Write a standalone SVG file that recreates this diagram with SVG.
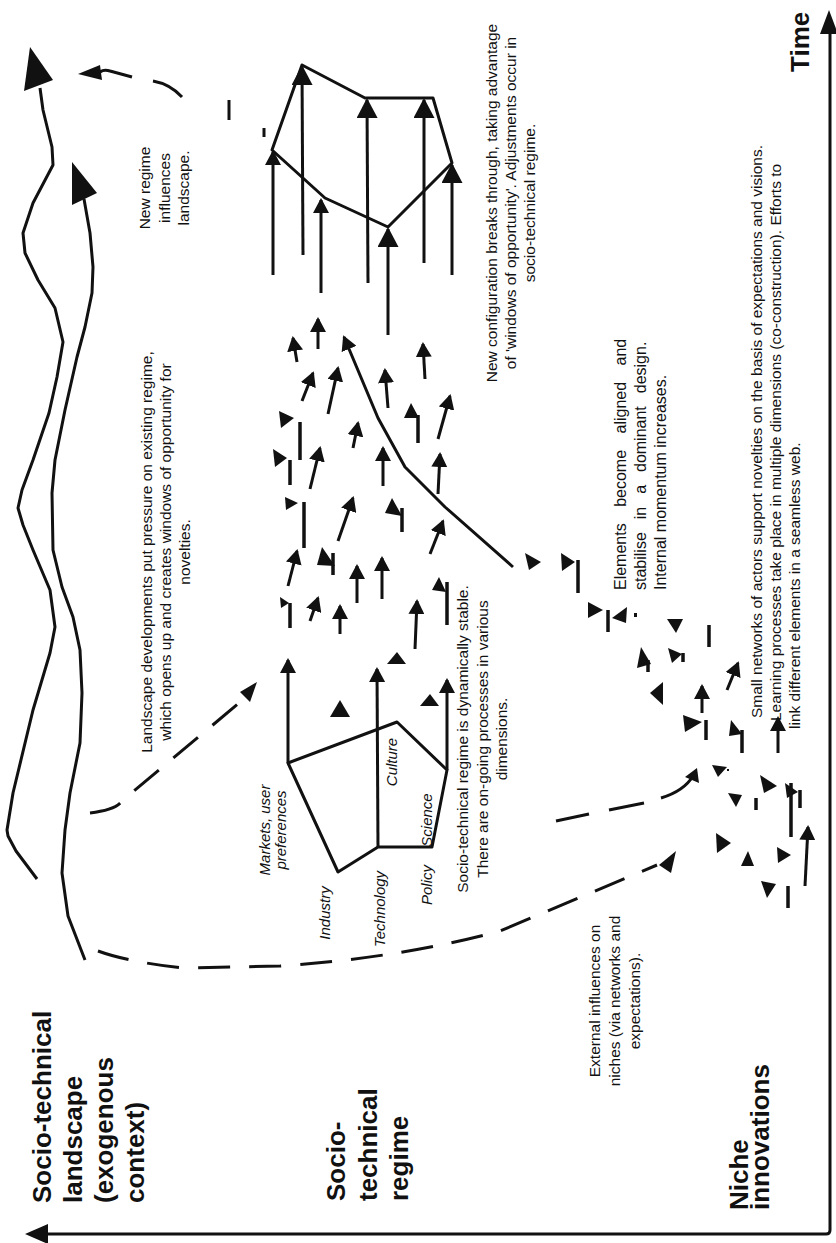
<svg xmlns="http://www.w3.org/2000/svg" width="836" height="1243" viewBox="0 0 836 1243">
<style>
.ln{fill:none;stroke:#111;stroke-width:3;stroke-linejoin:round}
.d{fill:none;stroke:#111;stroke-width:3;stroke-dasharray:32 19}
.a{stroke:#111;stroke-width:3;marker-end:url(#ah)}
.aL{stroke:#111;stroke-width:3;marker-end:url(#ahL)}
.s{stroke:#111;stroke-width:3.5}
.f{fill:#111}
.t{font-family:"Liberation Sans",Arial,sans-serif;font-size:15.5px;fill:#111;text-anchor:middle}
.i{font-style:italic;font-size:15px}
.st{text-anchor:start}
.b{font-family:"Liberation Sans",Arial,sans-serif;font-weight:bold;font-size:26px;fill:#111}
</style>
<defs>
<marker id="ah" viewBox="0 0 15 16" refX="13" refY="8" markerWidth="15" markerHeight="16" markerUnits="userSpaceOnUse" orient="auto"><path d="M0,0 L15,8 L0,16 z" fill="#111"/></marker>
<marker id="ahL" viewBox="0 0 20 21" refX="18" refY="10.5" markerWidth="20" markerHeight="21" markerUnits="userSpaceOnUse" orient="auto"><path d="M0,0 L20,10.5 L0,21 z" fill="#111"/></marker>
</defs>
<rect width="836" height="1243" fill="#fff"/>

<g id="axes">
<path class="ln" d="M46,1234 L826,1234 Q830,1234 830,1230 L830,32"/>
<polygon class="f" points="25,1234 48,1224 48,1244"/>
<polygon class="f" points="829,10 820,34 838,34"/>
</g>

<g id="landscape">
<path class="ln" d="M40,88 L43,110 L52,147 L53,165 L33,203 L23,233 L25,253 L38,280 L55,308 L63,342 L57,377 L49,413 L33,460 L22,490 L18,508 L23,525 L33,550 L50,590 L55,627 L50,653 L33,710 L13,793 L7,830 L8,836 L16,851 L37,879"/>
<polygon class="f" points="30,47 53,80 24,91"/>
<path class="ln" d="M84,199 L90,233 L93,267 L92,293 L85,327 L77,357 L65,410 L55,460 L52,493 L53,550 L62,587 L73,617 L80,650 L82,693 L80,743 L70,793 L65,830 L62,873 L68,916 L85,960"/>
<polygon class="f" points="72,162 97,193 72,205"/>
</g>

<g id="regime-old">
<polygon class="ln" points="288,763 397,722 447,770 432,847 378,847 338,872"/>
<line class="a" x1="288" y1="763" x2="288" y2="660"/>
<line class="a" x1="378" y1="847" x2="377" y2="669"/>
<line class="a" x1="447" y1="770" x2="447" y2="680"/>
</g>

<g id="regime-new">
<polygon class="ln" points="272,150 302,65 365,98 433,98 452,163 388,227 325,198"/>
<line class="a" x1="273" y1="275" x2="273" y2="152"/>
<line class="aL" x1="303" y1="255" x2="302" y2="67"/>
<line class="a" x1="321" y1="293" x2="321" y2="200"/>
<line class="aL" x1="368" y1="283" x2="367" y2="100"/>
<line class="aL" x1="388" y1="335" x2="388" y2="229"/>
<line class="aL" x1="424" y1="263" x2="424" y2="100"/>
<line class="aL" x1="452" y1="275" x2="452" y2="165"/>
</g>

<g id="regime-cloud">
<line class="a" x1="297" y1="362" x2="293" y2="338"/>
<line class="a" x1="318" y1="349" x2="318" y2="319"/>
<line class="a" x1="425" y1="379" x2="423" y2="344"/>
<line class="a" x1="302" y1="401" x2="313" y2="373"/>
<line class="a" x1="328" y1="414" x2="338" y2="368"/>
<line class="a" x1="388" y1="408" x2="385" y2="370"/>
<line class="a" x1="438" y1="439" x2="450" y2="396"/>
<line class="a" x1="353" y1="448" x2="358" y2="423"/>
<line class="a" x1="310" y1="489" x2="320" y2="448"/>
<line class="a" x1="383" y1="486" x2="383" y2="448"/>
<line class="a" x1="438" y1="494" x2="440" y2="454"/>
<line class="a" x1="338" y1="541" x2="353" y2="498"/>
<line class="a" x1="430" y1="554" x2="443" y2="521"/>
<line class="a" x1="288" y1="586" x2="297" y2="551"/>
<line class="a" x1="357" y1="603" x2="357" y2="566"/>
<line class="a" x1="382" y1="599" x2="382" y2="558"/>
<line class="a" x1="310" y1="621" x2="318" y2="598"/>
<line class="a" x1="340" y1="634" x2="340" y2="606"/>
<line class="a" x1="415" y1="649" x2="417" y2="601"/>
<path class="ln" d="M513,567 L445,507 L405,467 L378,418 L344,337" marker-end="url(#ah)"/>
<polygon class="f" points="411,403 419,418 404,418"/><line class="s" x1="418" y1="415" x2="418" y2="443"/>
<polygon class="f" points="279,411 294,418 281,428"/><line class="s" x1="300" y1="422" x2="300" y2="460"/>
<polygon class="f" points="273,449 287,458 275,467"/><line class="s" x1="290" y1="460" x2="290" y2="485"/>
<polygon class="f" points="285,497 298,503 286,510"/><line class="s" x1="304" y1="502" x2="304" y2="548"/>
<polygon class="f" points="392,498 402,516 385,513"/><line class="s" x1="402" y1="508" x2="402" y2="532"/>
<polygon class="f" points="322,547 335,566 317,565"/><line class="s" x1="333" y1="553" x2="333" y2="575"/>
<polygon class="f" points="280,597 289,603 281,608"/><line class="s" x1="290" y1="603" x2="290" y2="628"/>
<polygon class="f" points="439,577 446,592 432,590"/><line class="s" x1="447" y1="582" x2="447" y2="625"/>
<polygon class="f" points="525,553 541,562 529,570"/>
<polygon class="f" points="397,652 406,664 387,664"/>
<polygon class="f" points="340,700 350,717 330,717"/>
<polygon class="f" points="430,694 439,706 420,706"/>
</g>

<g id="niche">
<polygon class="f" points="561,553 575,562 562,571"/><line class="s" x1="578" y1="560" x2="578" y2="593"/>
<polygon class="f" points="588,602 603,610 588,618"/><line class="s" x1="608" y1="610" x2="608" y2="632"/>
<polygon class="f" points="612,618 627,607 626,623"/>
<rect class="f" x="634" y="613" width="3" height="4"/>
<polygon class="f" points="667,619 683,619 676,633"/>
<line class="s" x1="709" y1="625" x2="709" y2="647"/>
<polygon class="f" points="668,648 682,654 672,663"/><line class="s" x1="683" y1="653" x2="683" y2="662"/>
<polygon class="f" points="641,647 651,664 637,668"/><line class="s" x1="648" y1="660" x2="648" y2="672"/>
<line class="a" x1="727" y1="690" x2="738" y2="663"/>
<polygon class="f" points="650,693 663,682 663,705"/>
<line class="a" x1="702" y1="713" x2="702" y2="686"/>
<polygon class="f" points="683,715 702,722 685,732"/><line class="s" x1="706" y1="720" x2="706" y2="740"/>
<polygon class="f" points="731,720 742,734 729,736"/><line class="s" x1="742" y1="730" x2="742" y2="753"/>
<line class="a" x1="778" y1="753" x2="778" y2="718"/>
<polygon class="f" points="712,765 727,767 718,777"/><rect class="f" x="727" y="769" width="2" height="2"/>
<polygon class="f" points="760,775 777,786 764,793"/>
<polygon class="f" points="785,783 798,792 787,798"/><line class="s" x1="791" y1="783" x2="791" y2="837"/><line class="s" x1="800" y1="790" x2="800" y2="808"/>
<polygon class="f" points="728,793 742,795 736,807"/>
<line class="s" x1="756" y1="798" x2="756" y2="810"/>
<line class="a" x1="805" y1="886" x2="808" y2="827"/>
<polygon class="f" points="716,833 731,843 717,853"/>
<polygon class="f" points="748,851 754,866 741,866"/>
<polygon class="f" points="777,847 791,855 778,863"/>
<polygon class="f" points="761,881 776,884 767,898"/>
<line class="s" x1="788" y1="886" x2="788" y2="908"/>
</g>

<g id="connectors">
<path class="d" d="M98,951 Q128,962 183,968 L280,966 Q400,958 500,931 L657,865"/>
<polygon class="f" points="676,851 671,873 659,865"/>
<path class="d" d="M90,813 Q116,810 122,801 L245,698"/>
<polygon class="f" points="257,682 250,702 240,692"/>
<path class="ln" d="M182,97 Q170,84 153,81"/>
<path class="ln" d="M132,77 L110,71 Q104,69 100,72"/>
<polygon class="f" points="78,74 100,65 102,80"/>
<line class="ln" x1="556" y1="821" x2="589" y2="814"/>
<line class="ln" x1="609" y1="810" x2="644" y2="803"/>
<path class="ln" d="M661,798 Q684,791 693,776"/>
<polygon class="f" points="697,768 699,783 685,777"/>
<line class="ln" x1="229" y1="100" x2="229" y2="120"/>
<line class="ln" x1="264" y1="128" x2="264" y2="137"/>
</g>

<g id="labels">
<text class="b" transform="translate(0,1203) rotate(-90)"><tspan x="0" y="51">Socio-technical</tspan><tspan x="0" y="82">landscape</tspan><tspan x="0" y="113">(exogenous</tspan><tspan x="0" y="144">context)</tspan></text>
<text class="b" transform="translate(0,1201) rotate(-90)"><tspan x="0" y="345">Socio-</tspan><tspan x="0" y="377">technical</tspan><tspan x="0" y="408">regime</tspan></text>
<text class="b" transform="translate(0,1210) rotate(-90)"><tspan x="0" y="748">Niche</tspan><tspan x="0" y="769">innovations</tspan></text>
<text class="b" transform="translate(0,72) rotate(-90)"><tspan x="0" y="809">Time</tspan></text>
</g>

<g id="texts">
<text class="t" transform="translate(0,188) rotate(-90)"><tspan x="0" y="150">New regime</tspan><tspan x="0" y="170">influences</tspan><tspan x="0" y="189">landscape.</tspan></text>
<text class="t" transform="translate(0,552) rotate(-90)"><tspan x="0" y="152">Landscape developments put pressure on existing regime,</tspan><tspan x="0" y="171">which opens up and creates windows of opportunity for</tspan><tspan x="0" y="190">novelties.</tspan></text>
<text class="t" transform="translate(0,203) rotate(-90)"><tspan x="0" y="497">New configuration breaks through, taking advantage</tspan><tspan x="0" y="516">of 'windows of opportunity'. Adjustments occur in</tspan><tspan x="0" y="535">socio-technical regime.</tspan></text>
<text class="t st" transform="translate(0,590) rotate(-90)" style="font-size:16px"><tspan x="0" y="626" word-spacing="12">Elements become aligned and</tspan><tspan x="0" y="646" word-spacing="8.5">stabilise in a dominant design.</tspan><tspan x="0" y="666">Internal momentum increases.</tspan></text>
<text class="t st" transform="translate(0,718) rotate(-90)"><tspan x="0" y="762">Small networks of actors support novelties on the basis of expectations and visions.</tspan><tspan x="-3" y="781">Learning processes take place in multiple dimensions (co-construction). Efforts to</tspan><tspan x="-11" y="800">link different elements in a seamless web.</tspan></text>
<text class="t" transform="translate(0,739) rotate(-90)"><tspan x="0" y="468">Socio-technical regime is dynamically stable.</tspan><tspan x="0" y="488">There are on-going processes in various</tspan><tspan x="0" y="507">dimensions.</tspan></text>
<text class="t" transform="translate(0,1001) rotate(-90)"><tspan x="0" y="600">External influences on</tspan><tspan x="0" y="620">niches (via networks and</tspan><tspan x="0" y="640">expectations).</tspan></text>
<text class="t i" transform="translate(0,830) rotate(-90)"><tspan x="0" y="270">Markets, user</tspan><tspan x="0" y="286">preferences</tspan></text>
<text class="t i" transform="translate(0,913) rotate(-90)"><tspan x="0" y="330">Industry</tspan></text>
<text class="t i" transform="translate(0,909) rotate(-90)"><tspan x="0" y="385">Technology</tspan></text>
<text class="t i" transform="translate(0,885) rotate(-90)"><tspan x="0" y="432">Policy</tspan></text>
<text class="t i" transform="translate(0,762) rotate(-90)"><tspan x="0" y="397">Culture</tspan></text>
<text class="t i" transform="translate(0,820) rotate(-90)"><tspan x="0" y="432">Science</tspan></text>
</g>
</svg>
